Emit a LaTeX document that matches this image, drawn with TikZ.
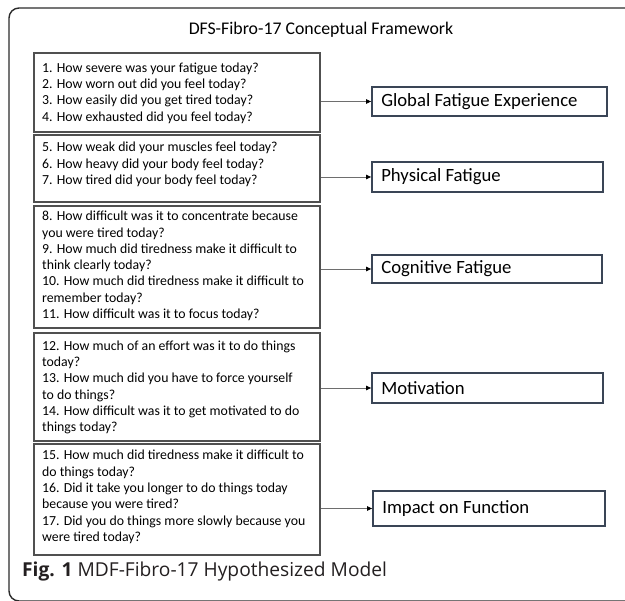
\documentclass[tikz,border=0pt]{standalone}
\usepackage{fontspec}
\setmainfont{Carlito}
\newfontfamily\capfont{Open Sans}
\usetikzlibrary{arrows.meta}
\definecolor{lboxc}{HTML}{505050}
\definecolor{rboxc}{HTML}{3A4556}
\definecolor{arrc}{HTML}{6E6E6E}
\definecolor{framec}{HTML}{2B2B2B}
\definecolor{capc}{HTML}{231F20}
\tikzset{
 qbox/.style={draw=lboxc, line width=1.2pt, rectangle, inner sep=0pt, minimum width=286pt},
 qtext/.style={anchor=west, align=left, inner sep=0pt, font=\fontsize{13.8}{16.3}\selectfont},
 fbox/.style={draw=rboxc, line width=1.8pt, rectangle, inner sep=0pt},
 ftext/.style={anchor=west, inner sep=0pt, font=\fontsize{18.7}{22}\selectfont},
 link/.style={draw=arrc, line width=0.8pt, -{Triangle[length=5pt,width=4.5pt,color=black]}},
}
\begin{document}
\begin{tikzpicture}[x=1pt,y=-1pt]
\useasboundingbox (0,0) rectangle (625,601);
\begin{scope}
\clip (0,0) rectangle (625,601);
\draw[framec, line width=1.4pt, rounded corners=10pt] (9,8) rectangle (660,601);
\end{scope}
\node[font=\fontsize{17.8}{21}\selectfont] (title) at (321,30) {DFS-Fibro-17 Conceptual Framework};
% left boxes
\node[qbox, minimum height=79pt] (q1) at (177,92.5) {};
\node[qbox, minimum height=67pt] (q2) at (177,168.5) {};
\node[qbox, minimum height=122pt] (q3) at (177,267) {};
\node[qbox, minimum height=108pt] (q4) at (177,387) {};
\node[qbox, minimum height=111pt] (q5) at (177,499.5) {};
\node[qtext] (qt1) at (42,93) {1. How severe was your fatigue today?\\2. How worn out did you feel today?\\3. How easily did you get tired today?\\4. How exhausted did you feel today?};
\node[qtext] (qt2) at (42,164.5) {5. How weak did your muscles feel today?\\6. How heavy did your body feel today?\\7. How tired did your body feel today?};
\node[qtext] (qt3) at (42,266) {8. How difficult was it to concentrate because\\you were tired today?\\9. How much did tiredness make it difficult to\\think clearly today?\\10. How much did tiredness make it difficult to\\remember today?\\11. How difficult was it to focus today?};
\node[qtext] (qt4) at (42,387.5) {12. How much of an effort was it to do things\\today?\\13. How much did you have to force yourself\\to do things?\\14. How difficult was it to get motivated to do\\things today?};
\node[qtext] (qt5) at (42,497) {15. How much did tiredness make it difficult to\\do things today?\\16. Did it take you longer to do things today\\because you were tired?\\17. Did you do things more slowly because you\\were tired today?};
% right boxes
\node[fbox, minimum width=235pt, minimum height=29pt] (r1) at (489.5,101.5) {};
\node[fbox, minimum width=231pt, minimum height=30pt] (r2) at (487.5,177) {};
\node[fbox, minimum width=230pt, minimum height=28pt] (r3) at (487,269) {};
\node[fbox, minimum width=231pt, minimum height=30pt] (r4) at (487.5,388) {};
\node[fbox, minimum width=232pt, minimum height=35pt] (r5) at (489,508.5) {};
\node[ftext] (rt1) at ([xshift=10pt]r1.west) {Global Fatigue Experience};
\node[ftext] (rt2) at ([xshift=10pt]r2.west) {Physical Fatigue};
\node[ftext] (rt3) at ([xshift=10pt]r3.west) {Cognitive Fatigue};
\node[ftext] (rt4) at ([xshift=10pt]r4.west) {Motivation};
\node[ftext] (rt5) at ([xshift=10pt]r5.west) {Impact on Function};
% arrows
\draw[link] (q1.east |- r1.west) -- (r1.west);
\draw[link] (q2.east |- r2.west) -- (r2.west);
\draw[link] (q3.east |- r3.west) -- (r3.west);
\draw[link] (q4.east |- r4.west) -- (r4.west);
\draw[link] (q5.east |- r5.west) -- (r5.west);
% caption
\node[anchor=west, inner sep=0pt, font=\capfont\fontsize{19.2}{23}\selectfont, text=capc] (cap) at (22,572) {\textbf{Fig. 1} MDF-Fibro-17 Hypothesized Model};
\end{tikzpicture}
\end{document}
